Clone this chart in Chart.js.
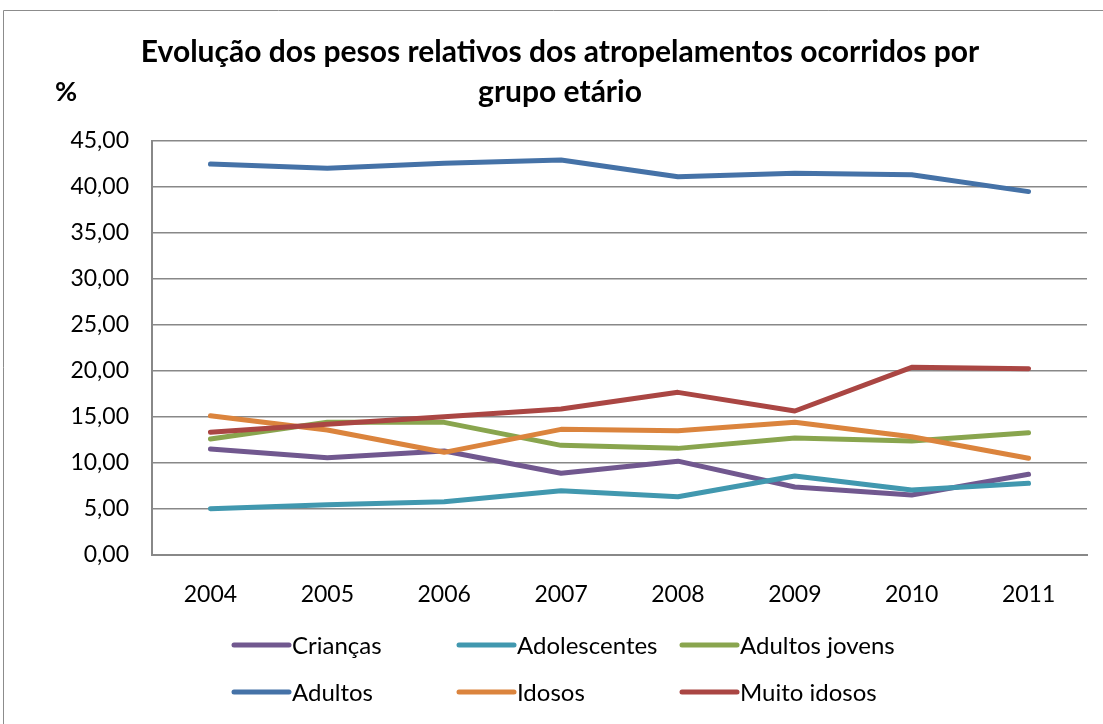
<!DOCTYPE html>
<html>
<head>
<meta charset="utf-8">
<script src="https://cdn.jsdelivr.net/npm/chart.js@4.4.1/dist/chart.umd.min.js"></script>
<style>
  html, body { margin: 0; padding: 0; background: #fff; }
  #wrap { width: 1103px; height: 724px; }
</style>
</head>
<body>
<div id="wrap"><canvas id="grafico" width="1103" height="724"></canvas></div>
<script>
// dados
const anos = ['2004', '2005', '2006', '2007', '2008', '2009', '2010', '2011'];
const criancas = [11.52, 10.58, 11.30, 8.88, 10.20, 7.39, 6.52, 8.77];
const adolescentes = [5.03, 5.47, 5.80, 6.99, 6.34, 8.59, 7.07, 7.79];
const adultosJovens = [12.60, 14.42, 14.42, 11.92, 11.59, 12.72, 12.39, 13.30];
const adultos = [42.50, 42.03, 42.57, 42.93, 41.12, 41.49, 41.34, 39.50];
const idosos = [15.14, 13.59, 11.16, 13.66, 13.51, 14.42, 12.86, 10.51];
const muitoIdosos = [13.33, 14.20, 15.04, 15.87, 17.68, 15.65, 20.40, 20.25];

const nomes = ['Crianças', 'Adolescentes', 'Adultos jovens', 'Adultos', 'Idosos', 'Muito idosos'];
const series = [criancas, adolescentes, adultosJovens, adultos, idosos, muitoIdosos];
const cores = ['#71588F', '#4198AF', '#89A54E', '#4572A7', '#DB843D', '#AA4643'];

const eixoY = { min: 0, max: 45, passo: 5 };

const FONTE = 'Lato, "Open Sans", sans-serif';

// desenha moldura, título e legenda por cima do canvas
const extras = {
  id: 'extras',
  beforeDraw(chart) {
    const c = chart.ctx;
    c.save();
    c.fillStyle = '#fff';
    c.fillRect(0, 0, chart.width, chart.height);
    c.strokeStyle = '#8c8c8c';
    c.lineWidth = 1;
    c.beginPath();
    c.moveTo(3.5, 760);
    c.lineTo(3.5, 10.5);
    c.lineTo(1110, 10.5);
    c.stroke();
    c.restore();
  },
  afterDraw(chart) {
    const c = chart.ctx;
    c.save();
    c.fillStyle = '#000';
    c.textBaseline = 'middle';
    c.textAlign = 'center';
    c.font = 'bold 30px ' + FONTE;
    c.fillText('Evolução dos pesos relativos dos atropelamentos ocorridos por', 560, 52);
    c.fillText('grupo etário', 560, 92);
    c.textAlign = 'left';
    c.font = 'bold 27px ' + FONTE;
    c.fillText('%', 55, 92);

    // legenda em grelha de 3 colunas
    c.font = '24px ' + FONTE;
    const colX = [232, 457, 680];
    const rowY = [645, 692];
    chart.data.datasets.forEach((ds, i) => {
      const x = colX[i % 3];
      const y = rowY[Math.floor(i / 3)];
      c.strokeStyle = ds.borderColor;
      c.lineWidth = 5;
      c.lineCap = 'round';
      c.beginPath();
      c.moveTo(x + 2, y);
      c.lineTo(x + 57, y);
      c.stroke();
      c.fillText(ds.label, x + 60, y + 1);
    });
    c.restore();
  }
};

const ctx = document.getElementById('grafico');
const grafico = new Chart(ctx, {
  type: 'line',
  data: {
    labels: anos,
    datasets: series.map((valores, i) => ({
      label: nomes[i],
      data: valores,
      borderColor: cores[i],
      backgroundColor: cores[i],
      borderWidth: 5,
      borderCapStyle: 'round',
      borderJoinStyle: 'round',
      pointRadius: 0,
      tension: 0,
      order: series.length - i
    }))
  },
  options: {
    responsive: false,
    animation: false,
    events: [],
    layout: { padding: { left: 0, top: 141, right: 16, bottom: 0 } },
    plugins: {
      legend: { display: false },
      title: { display: false },
      tooltip: { enabled: false }
    },
    scales: {
      x: {
        offset: true,
        grid: { display: false },
        border: { display: true, color: '#888', width: 2 },
        ticks: {
          color: '#000',
          font: { family: FONTE, size: 23 },
          padding: 18,
          maxRotation: 0
        },
        afterFit(scale) { scale.height = 724 - 555; }
      },
      y: {
        min: eixoY.min,
        max: eixoY.max,
        grid: { color: '#888', lineWidth: 1.5, drawTicks: false },
        border: { display: true, color: '#888', width: 2 },
        ticks: {
          stepSize: eixoY.passo,
          color: '#000',
          font: { family: FONTE, size: 23 },
          padding: 23,
          callback: v => v.toFixed(2).replace('.', ',')
        },
        afterFit(scale) { scale.width = 152; }
      }
    }
  },
  plugins: [extras]
});
</script>
</body>
</html>
